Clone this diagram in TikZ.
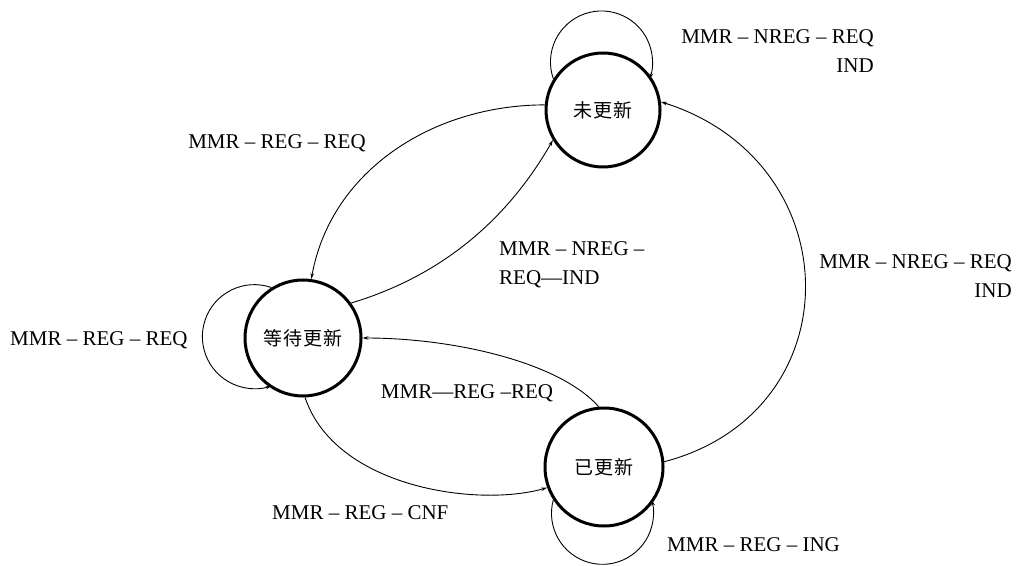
\documentclass[tikz,border=0pt]{standalone}
\usepackage{fontspec}
\setmainfont{Liberation Serif}
\newfontfamily\cjk[LetterSpace=6]{Noto Sans CJK SC}
\usetikzlibrary{arrows.meta}

\begin{document}
\begin{tikzpicture}[x=1pt,y=1pt,
  state/.style={circle,draw,line width=3pt,minimum size=#1,inner sep=0pt,
    font=\cjk\fontsize{19}{21}\selectfont},
  trans/.style={line width=0.9pt,-{Stealth[length=6pt,width=3.5pt]}},
  lbl/.style={inner sep=0pt,font=\fontsize{21}{29}\selectfont}]
\useasboundingbox (0,0) rectangle (1016,565);

% states
\node[state=114] (U) at (603,455) {未更新};
\node[state=116] (W) at (303,227) {等待更新};
\node[state=118] (D) at (604,98)  {已更新};

% self-loops
\draw[trans] (U.148) arc[start angle=199.5,end angle=-19.5,radius=51];
\draw[trans] (W.122) arc[start angle=70.8,end angle=289.2,radius=52];
\draw[trans] (D.213) arc[start angle=164.8,end angle=375.2,radius=51];

% transitions between states
\draw[trans] (U.175) .. controls +(-110,0) and +(20,110) .. (W.82);
\draw[trans] (W.36) .. controls +(100,30) and +(-40,-70) .. (U.211);
\draw[trans] (D.95) .. controls +(-40,45) and +(90,0) .. (W.0);
\draw[trans] (W.272) .. controls +(30,-90) and +(-70,-20) .. (D.200);
\draw[trans] (D.5) .. controls +(190,50) and +(190,-60) .. (U.8);

% labels
\node[lbl,align=right,anchor=east] (lU) at (874,514) {MMR – NREG – REQ\\IND};
\node[lbl] (lUW) at (277,422) {MMR – REG – REQ};
\node[lbl,align=left,anchor=west] (lWU) at (499,300) {MMR – NREG –\\REQ—IND};
\node[lbl,align=right,anchor=east] (lDU) at (1012,289) {MMR – NREG – REQ\\IND};
\node[lbl,anchor=west] (lW) at (10,225) {MMR – REG – REQ};
\node[lbl] (lDW) at (467,172) {MMR—REG –REQ};
\node[lbl,anchor=west] (lWD) at (272,52) {MMR – REG – CNF};
\node[lbl,anchor=west] (lD) at (667,20) {MMR – REG – ING};
\end{tikzpicture}
\end{document}
